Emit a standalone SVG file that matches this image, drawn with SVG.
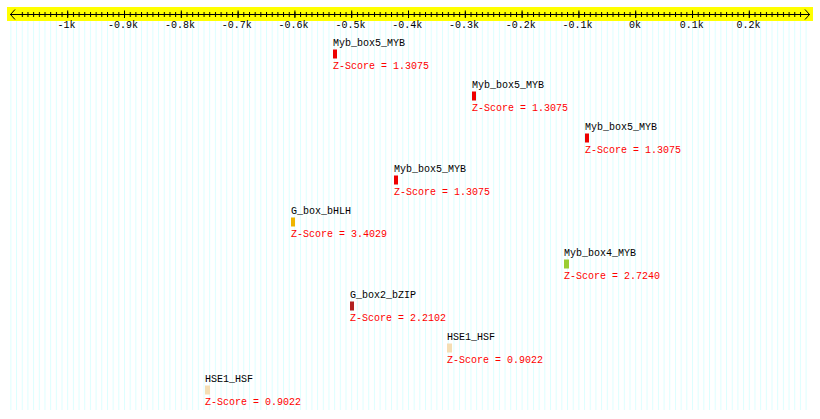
<svg xmlns="http://www.w3.org/2000/svg" width="820" height="419" viewBox="0 0 820 419">
<style>
.ax{font-family:"Liberation Mono","DejaVu Sans Mono",monospace;font-size:10px;fill:#000;text-anchor:middle}
.lbl{font-family:"Liberation Mono","DejaVu Sans Mono",monospace;font-size:10px;fill:#000}
.z{font-family:"Liberation Mono","DejaVu Sans Mono",monospace;font-size:10px;fill:#ff0000}
.maj{stroke:#000;stroke-width:1}
</style>
<defs>
<pattern id="vl" patternUnits="userSpaceOnUse" x="10.4" y="0" width="5.68" height="419"><rect x="0" y="0" width="1" height="419" fill="#dcffff"/></pattern>
<pattern id="mt" patternUnits="userSpaceOnUse" x="21.8" y="0" width="5.68" height="419"><rect x="0" y="0" width="1" height="419" fill="#000"/></pattern>
</defs>
<rect width="820" height="419" fill="#fff"/>
<rect x="10" y="21" width="800" height="389" fill="url(#vl)"/>
<g id="axis">
<rect x="7" y="7" width="806" height="14" fill="#ffff00"/>
<line x1="10" y1="14.5" x2="810" y2="14.5" stroke="#000"/>
<rect x="21" y="12" width="782" height="5" fill="url(#mt)"/>
<polyline points="15,9.5 10.5,14.5 15,19.5" fill="none" stroke="#000"/>
<polyline points="805,9.5 809.5,14.5 805,19.5" fill="none" stroke="#000"/>
<g class="maj">
<line x1="67.7" y1="10.5" x2="67.7" y2="18"/>
<line x1="124.5" y1="10.5" x2="124.5" y2="18"/>
<line x1="181.3" y1="10.5" x2="181.3" y2="18"/>
<line x1="238.1" y1="10.5" x2="238.1" y2="18"/>
<line x1="294.9" y1="10.5" x2="294.9" y2="18"/>
<line x1="351.7" y1="10.5" x2="351.7" y2="18"/>
<line x1="408.5" y1="10.5" x2="408.5" y2="18"/>
<line x1="465.3" y1="10.5" x2="465.3" y2="18"/>
<line x1="522.1" y1="10.5" x2="522.1" y2="18"/>
<line x1="578.9" y1="10.5" x2="578.9" y2="18"/>
<line x1="635.7" y1="10.5" x2="635.7" y2="18"/>
<line x1="692.5" y1="10.5" x2="692.5" y2="18"/>
<line x1="749.3" y1="10.5" x2="749.3" y2="18"/>
</g>
<text class="ax" x="66.5" y="28">-1k</text>
<text class="ax" x="123" y="28">-0.9k</text>
<text class="ax" x="180" y="28">-0.8k</text>
<text class="ax" x="236.8" y="28">-0.7k</text>
<text class="ax" x="293.6" y="28">-0.6k</text>
<text class="ax" x="350.4" y="28">-0.5k</text>
<text class="ax" x="407.2" y="28">-0.4k</text>
<text class="ax" x="464" y="28">-0.3k</text>
<text class="ax" x="520.8" y="28">-0.2k</text>
<text class="ax" x="577.6" y="28">-0.1k</text>
<text class="ax" x="635" y="28">0k</text>
<text class="ax" x="691.8" y="28">0.1k</text>
<text class="ax" x="748.6" y="28">0.2k</text>
</g>
<g id="m1"><text class="lbl" x="333" y="46">Myb_box5_MYB</text><rect x="333" y="49.5" width="4" height="9" fill="#ee0000"/><text class="z" x="333" y="69">Z-Score = 1.3075</text></g>
<g id="m2"><text class="lbl" x="472" y="88">Myb_box5_MYB</text><rect x="472" y="91.5" width="4" height="9" fill="#ee0000"/><text class="z" x="472" y="111">Z-Score = 1.3075</text></g>
<g id="m3"><text class="lbl" x="585" y="130">Myb_box5_MYB</text><rect x="585" y="133.5" width="4" height="9" fill="#ee0000"/><text class="z" x="585" y="153">Z-Score = 1.3075</text></g>
<g id="m4"><text class="lbl" x="394" y="172">Myb_box5_MYB</text><rect x="394" y="175.5" width="4" height="9" fill="#ee0000"/><text class="z" x="394" y="195">Z-Score = 1.3075</text></g>
<g id="m5"><text class="lbl" x="291" y="214">G_box_bHLH</text><rect x="291" y="217.5" width="4" height="9" fill="#f0b400"/><text class="z" x="291" y="237">Z-Score = 3.4029</text></g>
<g id="m6"><text class="lbl" x="564" y="256">Myb_box4_MYB</text><rect x="564" y="259.5" width="5" height="9" fill="#9acd32"/><text class="z" x="564" y="279">Z-Score = 2.7240</text></g>
<g id="m7"><text class="lbl" x="350" y="298">G_box2_bZIP</text><rect x="350" y="301.5" width="4" height="9" fill="#b22222"/><text class="z" x="350" y="321">Z-Score = 2.2102</text></g>
<g id="m8"><text class="lbl" x="447" y="340">HSE1_HSF</text><rect x="447" y="343.5" width="5" height="9" fill="#f5deb3"/><text class="z" x="447" y="363">Z-Score = 0.9022</text></g>
<g id="m9"><text class="lbl" x="205" y="382">HSE1_HSF</text><rect x="205" y="385.5" width="5" height="9" fill="#f5deb3"/><text class="z" x="205" y="405">Z-Score = 0.9022</text></g>
<g id="connectors"></g>
</svg>
